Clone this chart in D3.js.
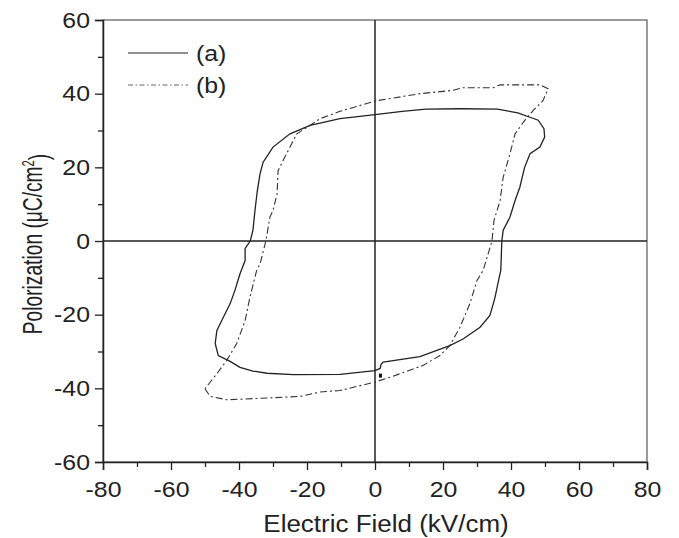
<!DOCTYPE html>
<html>
<head>
<meta charset="utf-8">
<script src="https://cdn.jsdelivr.net/npm/d3@7"></script>
<style>
  body { margin: 0; background: #fff; }
  text { font-family: "Liberation Sans", Arial, sans-serif; fill: #222; }
</style>
</head>
<body>
<div id="chart"></div>
<script>
// chart size and margins
var svgWidth = 679;
var svgHeight = 538;
var margin = { top: 20, right: 32, left: 103, bottom: 76 };
var width = svgWidth - margin.left - margin.right;
var height = svgHeight - margin.top - margin.bottom;
var stretch = 1.13; // text in the picture is a bit wide

// loop (a): electric field (kV/cm) and polarization (uC/cm2)
var aField = [0, 8, 15, 25, 36, 42, 45.6, 48, 49.7, 49.9, 48.5, 45.6, 44, 42.6, 41.2, 39.7, 37.7, 37.3, 37, 36.5,
  35.3, 34.8, 33.8, 30.9, 25.9, 22, 13.2, 2.4, 1.8, 1.5, 0, -10.3, -24, -31.8, -35.9, -39.7, -42.6, -46.1, -47, -46.5,
  -44.6, -42.6, -41.2, -39.7, -38.2, -38.2, -36.7, -35.9, -35.3, -34.6, -33.8, -32.9, -30, -25, -19.1, -10.3, 0];
var aPol = [34.3, 35.2, 35.8, 35.9, 35.8, 34.8, 33.6, 32.8, 30.5, 28.2, 25.5, 23.7, 20, 14.6, 11, 6.5, 2.9, 0, -8, -10,
  -15.3, -17, -20.2, -23.4, -26.6, -28.4, -31.4, -32.9, -33.5, -34.6, -35.2, -36.2, -36.3, -35.9, -35.3, -34.3, -32.7, -31.1, -27.8, -24.3,
  -20.7, -17, -13.4, -8.9, -5.3, -2, 0, 2.9, 8.3, 13.7, 18.3, 21.4, 25.5, 29.1, 31.4, 33.2, 34.3];

// loop (b)
var bField = [-50, -48.5, -43.5, -35.9, -22, -16.2, -10.3, 0, 4.4, 14.1, 19.1, 22, 25, 27.9, 30, 31.8, 34.4, 35,
  36.8, 37.7, 39.7, 41.2, 44, 46.5, 49.4, 50.9, 48.5, 36.8, 34.8, 25.9, 22.9, 13.2, 0, -10.3, -16.2, -19.1, -23,
  -25, -27, -28.5, -28.8, -30, -30.9, -32.1, -33.8, -34.8, -36.8, -38.2, -40.7, -43.6, -46.5, -50];
var bPol = [-40.1, -42.2, -43.1, -42.8, -42.2, -41, -40.6, -38.3, -37, -33.8, -31.1, -28.4, -23.4, -17, -10.7, -8, 0, 5.6,
  11, 17.3, 23.7, 29.1, 32.7, 35.4, 38.1, 41.3, 42.4, 42.4, 41.6, 41.6, 40.9, 40, 38, 35.2, 33.2, 31.4, 29.1,
  25.5, 21.9, 19.1, 12.8, 8.3, 6.5, 0, -6.2, -8, -15.3, -21.6, -27.9, -32.4, -36, -40.1];

var xTicks = [-80, -60, -40, -20, 0, 20, 40, 60, 80];
var yTicks = [-60, -40, -20, 0, 20, 40, 60];
var seriesNames = ["(a)", "(b)"];

var svg = d3.select("#chart").append("svg").attr("width", svgWidth).attr("height", svgHeight);
var chartGroup = svg.append("g").attr("transform", `translate(${margin.left}, ${margin.top})`);

var xScale = d3.scaleLinear().domain([-80, 80]).range([0, width]);
var yScale = d3.scaleLinear().domain([-60, 60]).range([height, 0]);

// frame
chartGroup.append("rect")
  .attr("width", width).attr("height", height)
  .attr("fill", "none").attr("stroke", "#666").attr("stroke-width", 1.3);

// zero lines
chartGroup.append("line")
  .attr("x1", 0).attr("x2", width).attr("y1", yScale(0)).attr("y2", yScale(0))
  .attr("stroke", "#222").attr("stroke-width", 1.5);
chartGroup.append("line")
  .attr("x1", xScale(0)).attr("x2", xScale(0)).attr("y1", 0).attr("y2", height)
  .attr("stroke", "#222").attr("stroke-width", 1.5);

// minor ticks
var xMinor = chartGroup.append("g").attr("transform", `translate(0, ${height})`)
  .call(d3.axisBottom(xScale).tickValues(d3.range(-70, 80, 20)).tickSize(5).tickFormat(""));
var yMinor = chartGroup.append("g")
  .call(d3.axisLeft(yScale).tickValues(d3.range(-50, 60, 20)).tickSize(5).tickFormat(""));

// major axes (plain hyphen for negatives, as in the picture)
var xAxis = chartGroup.append("g").attr("transform", `translate(0, ${height})`)
  .call(d3.axisBottom(xScale).tickValues(xTicks).tickSize(8).tickFormat(d => String(d)));
var yAxis = chartGroup.append("g")
  .call(d3.axisLeft(yScale).tickValues(yTicks).tickSize(8).tickFormat(d => String(d)));

[xMinor, yMinor, xAxis, yAxis].forEach(function(ax) {
  ax.select(".domain").attr("stroke", "#222").attr("stroke-width", 1.5);
  ax.selectAll(".tick line").attr("stroke", "#222").attr("stroke-width", 1.3);
});
xMinor.select(".domain").remove();
yMinor.select(".domain").remove();

xAxis.selectAll("text")
  .style("font-size", "22px").attr("fill", "#222")
  .attr("y", 35).attr("dy", 0)
  .attr("transform", `scale(${stretch},1)`);
yAxis.selectAll("text")
  .style("font-size", "22px").attr("fill", "#222")
  .attr("x", -13 / stretch)
  .attr("transform", `scale(${stretch},1)`);

// loops
var line = d3.line()
  .x(d => xScale(d[0]))
  .y(d => yScale(d[1]));

var aData = aField.map((v, i) => [v, aPol[i]]);
var bData = bField.map((v, i) => [v, bPol[i]]);

chartGroup.append("path").datum(bData)
  .attr("d", line).attr("fill", "none").attr("stroke", "#333")
  .attr("stroke-width", 1.1).attr("stroke-dasharray", "7,3,2,3");
chartGroup.append("path").datum(aData)
  .attr("d", line).attr("fill", "none").attr("stroke", "#222")
  .attr("stroke-width", 1.3);

// small dark mark near (2, -36.5)
chartGroup.append("rect")
  .attr("x", xScale(1.6) - 1.5).attr("y", yScale(-36)).attr("width", 3).attr("height", 4)
  .attr("fill", "#111");

// legend
var legend = chartGroup.append("g");
seriesNames.forEach(function(name, i) {
  var ly = 33 + i * 32;
  legend.append("line")
    .attr("x1", 25).attr("x2", 85).attr("y1", ly).attr("y2", ly)
    .attr("stroke", i === 0 ? "#222" : "#666").attr("stroke-width", 1.2)
    .attr("stroke-dasharray", i === 0 ? null : "5,2.5,1.5,2.5");
  legend.append("text")
    .attr("transform", `translate(93, ${ly}) scale(${stretch},1)`)
    .attr("dy", "0.35em")
    .style("font-size", "22px").text(name);
});

// axis titles
svg.append("text")
  .attr("transform", `translate(386, 532) scale(${stretch},1)`)
  .attr("text-anchor", "middle").style("font-size", "23px")
  .text("Electric Field (kV/cm)");

var yTitle = svg.append("text")
  .attr("transform", `translate(42, 244) rotate(-90) scale(0.8,${stretch})`)
  .attr("text-anchor", "middle").style("font-size", "24px");
yTitle.append("tspan").text("Polorization (\u03bcC/cm");
yTitle.append("tspan").attr("dy", "-0.5em").style("font-size", "14px").text("2");
yTitle.append("tspan").attr("dy", "0.5em").text(")");
</script>
</body>
</html>
